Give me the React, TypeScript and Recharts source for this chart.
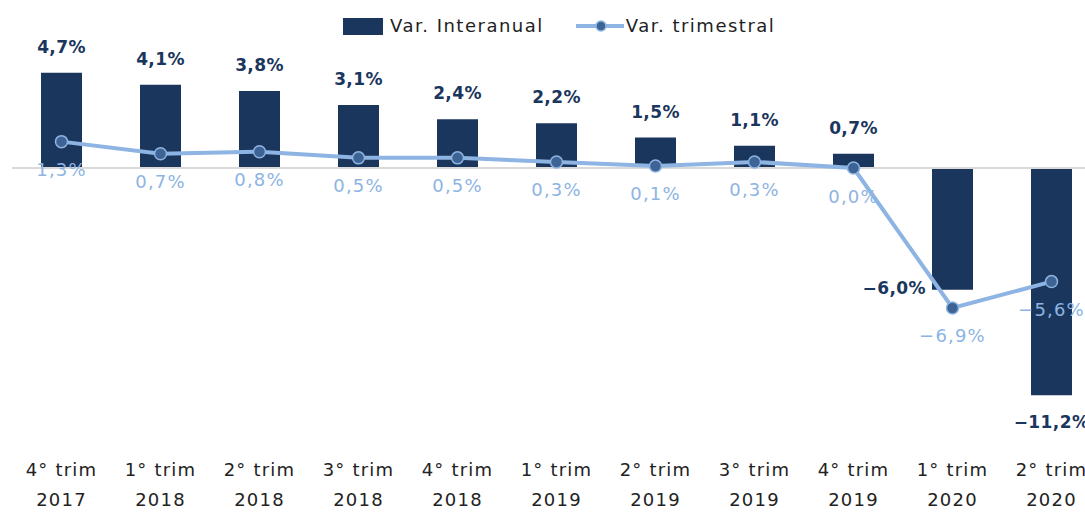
import React from 'react'
import {
  ComposedChart, Bar, Line, XAxis, YAxis, ReferenceLine, LabelList,
} from 'recharts'

const quarters = ['4° trim', '1° trim', '2° trim', '3° trim', '4° trim', '1° trim', '2° trim', '3° trim', '4° trim', '1° trim', '2° trim']
const years = ['2017', '2018', '2018', '2018', '2018', '2019', '2019', '2019', '2019', '2020', '2020']
const interanual = [4.7, 4.1, 3.8, 3.1, 2.4, 2.2, 1.5, 1.1, 0.7, -6.0, -11.2]
const trimestral = [1.3, 0.7, 0.8, 0.5, 0.5, 0.3, 0.1, 0.3, 0.0, -6.9, -5.6]

const BAR = '#1B365D'
const LINE = '#8DB4E2'
const DOT = '#3D6494'
const FONT = '"DejaVu Sans", Verdana, sans-serif'

const data = quarters.map((q, i) => ({
  name: `${q} ${years[i]}`,
  quarter: q,
  year: years[i],
  interanual: interanual[i],
  trimestral: trimestral[i],
}))

const fmt = (v: number) => (v < 0 ? '\u2212' : '') + Math.abs(v).toFixed(1).replace('.', ',') + '%'

function BarLabel(props: any) {
  const { x, y, width, height, value, index } = props
  const top = Math.min(y, y + height)
  const bottom = Math.max(y, y + height)
  const cx = x + width / 2
  const common = { fontFamily: FONT, fontSize: 17, fontWeight: 700, fill: BAR, letterSpacing: 0.4 }
  if (value >= 0) {
    return <text x={cx} y={top - 26} textAnchor="middle" dominantBaseline="central" {...common}>{fmt(value)}</text>
  }
  // line point sits below the bar end -> put label on the left side
  if (trimestral[index] < value) {
    return <text x={x - 6} y={bottom - 2} textAnchor="end" dominantBaseline="central" {...common}>{fmt(value)}</text>
  }
  return <text x={cx} y={bottom + 27} textAnchor="middle" dominantBaseline="central" {...common}>{fmt(value)}</text>
}

function LineLabel(props: any) {
  const { x, y, value } = props
  return (
    <text x={x} y={y + 28} textAnchor="middle" dominantBaseline="central"
      fontFamily={FONT} fontSize={18} fill={LINE} letterSpacing={1.2}>
      {fmt(value)}
    </text>
  )
}

function Tick(props: any) {
  const { x, y, index } = props
  const d = data[index]
  if (!d) return null
  return (
    <g>
      <text x={x} y={y + 9} textAnchor="middle" dominantBaseline="central" fontFamily={FONT} fontSize={18} fill="#222" letterSpacing={1.2}>{d.quarter}</text>
      <text x={x} y={y + 39} textAnchor="middle" dominantBaseline="central" fontFamily={FONT} fontSize={18} fill="#222" letterSpacing={1.2}>{d.year}</text>
    </g>
  )
}

function LegendBox() {
  const txt = { fontFamily: FONT, fontSize: 18, color: '#222', letterSpacing: 1.5, lineHeight: '20px', whiteSpace: 'nowrap' as const }
  return (
    <div style={{ position: 'absolute', left: 343, top: 16, display: 'flex', alignItems: 'center' }}>
      <div style={{ width: 40, height: 17, background: BAR, marginRight: 7 }} />
      <span style={txt}>Var. Interanual</span>
      <svg width={48} height={20} style={{ marginLeft: 32, marginRight: 2 }}>
        <line x1={0} y1={10} x2={48} y2={10} stroke={LINE} strokeWidth={4} />
        <circle cx={25} cy={10} r={5} fill={DOT} stroke={LINE} strokeWidth={1.5} />
      </svg>
      <span style={txt}>Var. trimestral</span>
    </div>
  )
}

export default function App() {
  return (
    <div style={{ position: 'absolute', left: 0, top: 0, width: 1085, height: 512, overflow: 'hidden', background: '#fff' }}>
      <ComposedChart width={1101} height={512} data={data}
        margin={{ top: 26, right: 0, left: 12, bottom: 0 }}>
        <XAxis dataKey="name" axisLine={false} tickLine={false} height={60}
          interval={0} tick={<Tick />} />
        <YAxis hide domain={[-14, 7]} />
        <ReferenceLine y={0} stroke="#D9D9D9" strokeWidth={2} />
        <Bar dataKey="interanual" fill={BAR} barSize={41} isAnimationActive={false}>
          <LabelList dataKey="interanual" content={<BarLabel />} />
        </Bar>
        <Line dataKey="trimestral" stroke={LINE} strokeWidth={4} type="linear"
          dot={{ r: 6, fill: DOT, stroke: LINE, strokeWidth: 1.5 }}
          activeDot={false} isAnimationActive={false}>
          <LabelList dataKey="trimestral" content={<LineLabel />} />
        </Line>
      </ComposedChart>
      <LegendBox />
    </div>
  )
}
